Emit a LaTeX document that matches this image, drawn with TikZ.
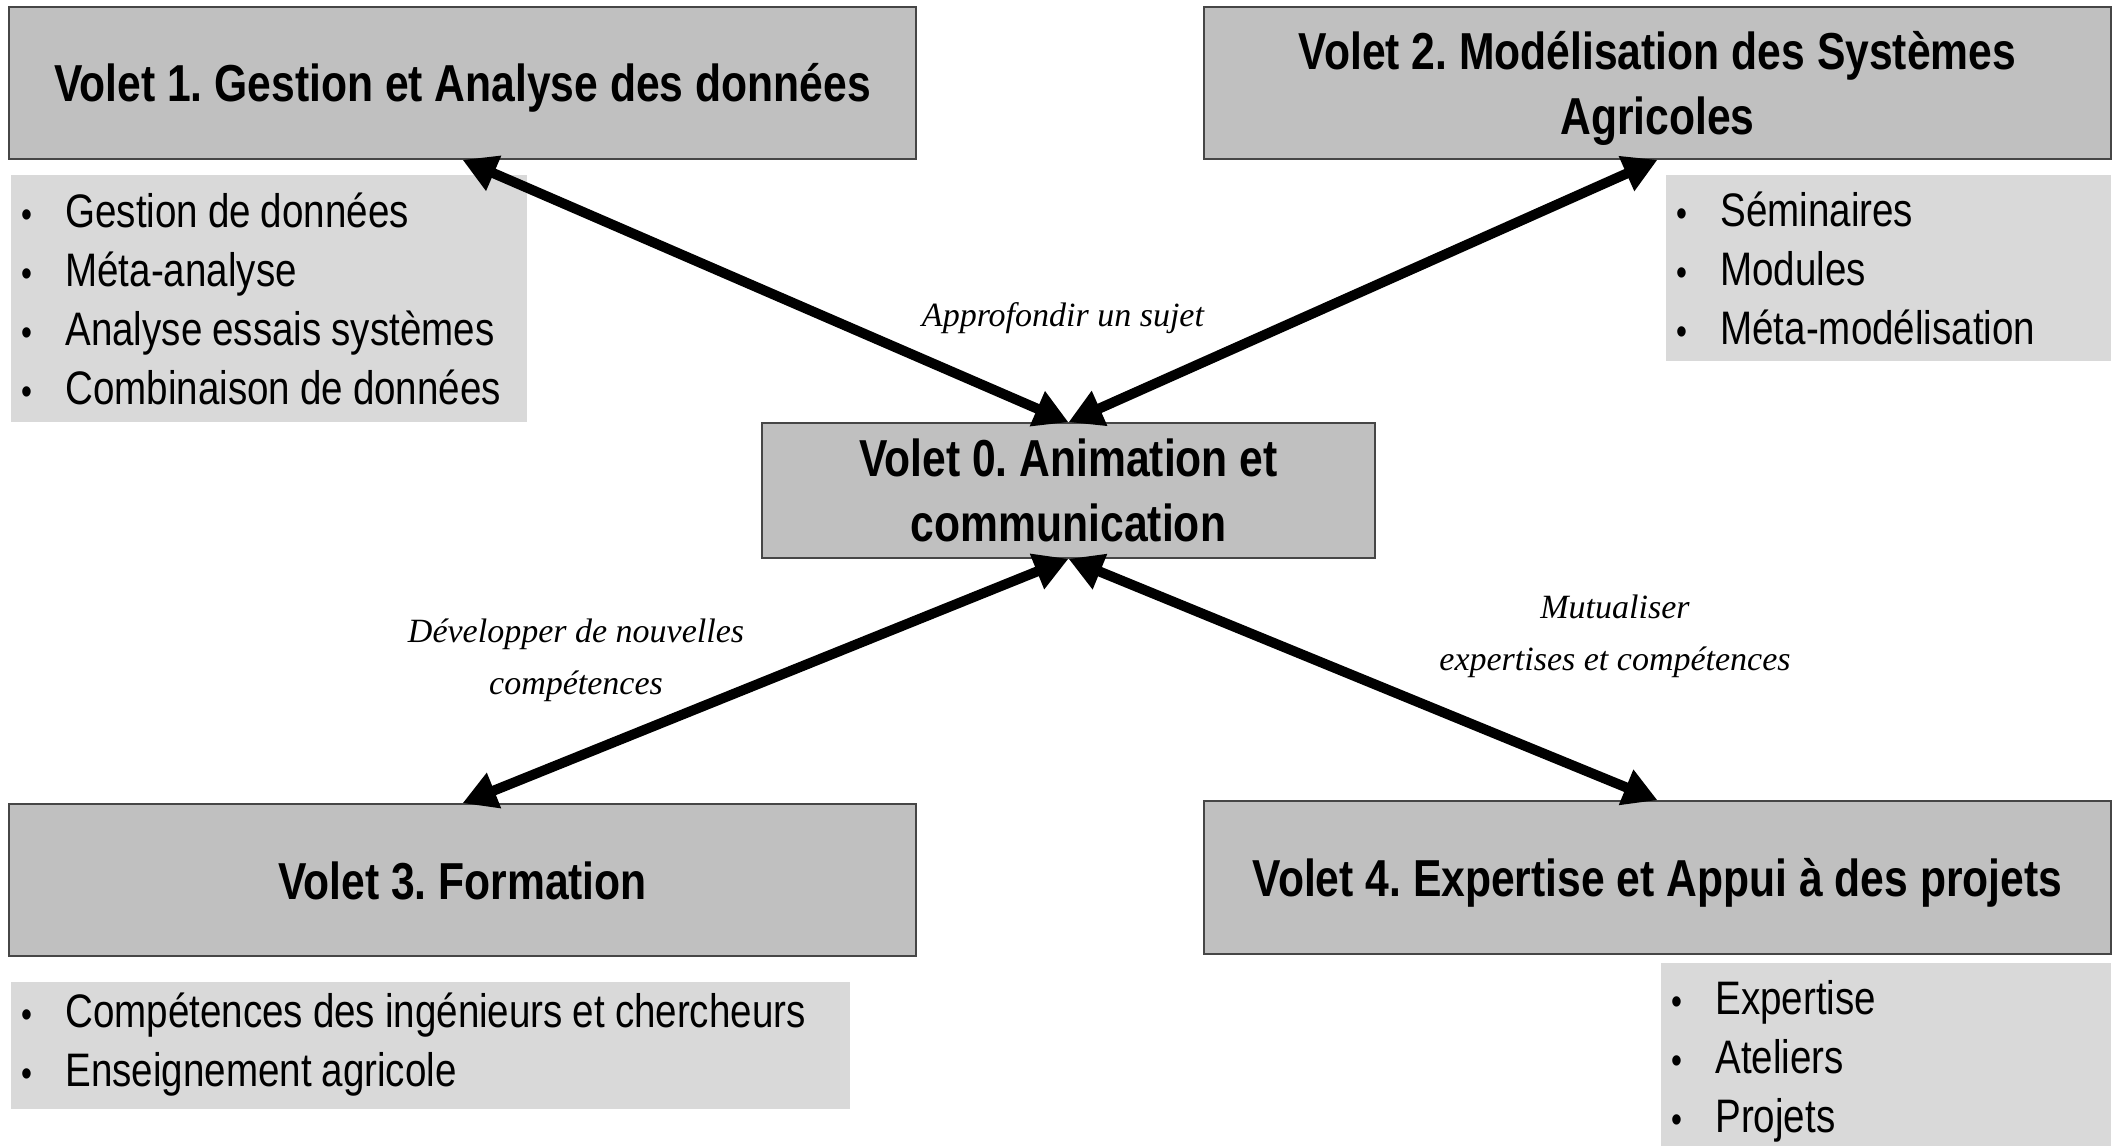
\documentclass[tikz,border=0pt]{standalone}
\usepackage{fontspec}
\setmainfont{Liberation Sans}[FakeStretch=0.82, WordSpace=0.93, BoldFeatures={WordSpace=1}]
\newfontfamily\etiqfont{Liberation Serif}
\usetikzlibrary{arrows.meta}
\frenchspacing

\definecolor{titregris}{RGB}{192,192,192}
\definecolor{listegris}{RGB}{217,217,217}
\definecolor{bordgris}{RGB}{70,70,70}
\newcommand{\puce}{\makebox[22pt][l]{\fontsize{19}{19}\selectfont\textbullet}}

\tikzset{
  volet/.style={draw=bordgris, line width=0.8pt, fill=titregris, align=center, inner sep=0pt,
    font=\fontsize{26}{32.5}\selectfont\bfseries},
  bas/.style={text height=24.5pt, text depth=5.5pt},
  liste/.style={fill=listegris, align=flush left, anchor=west, inner xsep=5pt, inner ysep=0pt,
    font=\fontsize{23.5}{29.5}\selectfont},
  lien/.style={line width=5pt, {Triangle[length=17pt,width=18pt]}-{Triangle[length=17pt,width=18pt]}},
  etiq/.style={align=center, font=\etiqfont\itshape\fontsize{17}{26}\selectfont},
}

\begin{document}
\begin{tikzpicture}[x=0.5pt, y=-0.5pt]
\useasboundingbox (0, 0) rectangle (2112, 1145);
% Volets
\node[volet, bas, minimum width=453.5pt, minimum height=76pt] (v1) at (462.5, 83) {Volet 1. Gestion et Analyse des données};
\node[volet, text height=57pt, text depth=5.5pt, minimum width=453.5pt, minimum height=76pt] (v2) at (1657.5, 83) {Volet 2. Modélisation des Systèmes\\Agricoles};
\node[volet, minimum width=306.5pt, minimum height=67.5pt] (v0) at (1068.5, 490.5) {Volet 0. Animation et\\communication};
\node[volet, bas, minimum width=453.5pt, minimum height=76pt] (v3) at (462.5, 880) {Volet 3. Formation};
\node[volet, bas, minimum width=453.5pt, minimum height=76.5pt] (v4) at (1657.5, 877.5) {Volet 4. Expertise et Appui à des projets};
% Listes
\node[liste, text width=248pt, minimum height=123.5pt] (l1) at (11, 298.5)
  {\puce Gestion de données\\\puce Méta-analyse\\\puce Analyse essais systèmes\\\puce Combinaison de données};
\node[liste, text width=212.5pt, minimum height=93pt] (l2) at (1666, 268)
  {\puce Séminaires\\\puce Modules\\\puce Méta-modélisation};
\node[liste, text width=409.5pt, minimum height=63.5pt] (l3) at (11, 1045)
  {\puce Compétences des ingénieurs et chercheurs\\\puce Enseignement agricole};
\node[liste, text width=215pt, minimum height=98pt] (l4) at (1661, 1061)
  {\puce Expertise\\\puce Ateliers\\\puce Projets};
% Flèches
\draw[lien] (v1.south) -- (v0.north);
\draw[lien] (v2.south) -- (v0.north);
\draw[lien] (v3.north) -- (v0.south);
\draw[lien] (v4.north) -- (v0.south);
%Texte
\node[etiq] (e1) at (1063, 318) {Approfondir un sujet};
\node[etiq] (e3) at (576, 660) {Développer de nouvelles\\compétences};
\node[etiq] (e4) at (1615, 636) {Mutualiser\\expertises et compétences};
\end{tikzpicture}
\end{document}
